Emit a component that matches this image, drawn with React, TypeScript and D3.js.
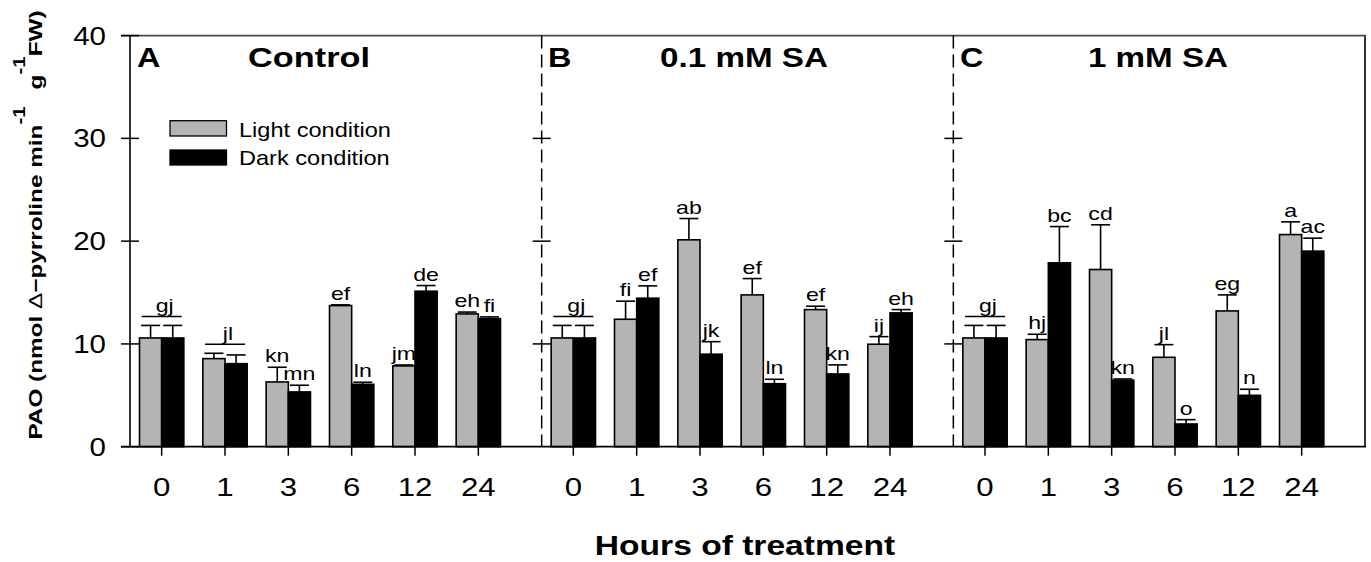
import React from "react";
import * as d3 from "d3";

// ---------- data ----------
const hours = ["0", "1", "3", "6", "12", "24"];
const panelTitles = ["Control", "0.1 mM SA", "1 mM SA"];
const panelLetters = ["A", "B", "C"];
const yTicks = [0, 10, 20, 30, 40];

// means (nmol Δ-pyrroline min-1 g-1 FW)
const lightA = [10.58, 8.57, 6.3, 13.73, 7.86, 12.92];
const darkA = [10.58, 8.08, 5.33, 6.07, 15.13, 12.46];
const lightB = [10.58, 12.4, 20.13, 14.77, 13.34, 9.97];
const darkB = [10.58, 14.45, 9.0, 6.13, 7.08, 13.02];
const lightC = [10.58, 10.42, 17.24, 8.7, 13.21, 20.64];
const darkC = [10.58, 17.89, 6.47, 2.21, 5.0, 19.03];

// standard errors
const lightErrA = [1.22, 0.52, 1.43, 0.07, 0.09, 0.18];
const darkErrA = [1.22, 0.85, 0.65, 0.2, 0.55, 0.17];
const lightErrB = [1.22, 1.76, 2.07, 1.59, 0.33, 0.74];
const darkErrB = [1.22, 1.2, 1.22, 0.43, 0.88, 0.32];
const lightErrC = [1.22, 0.52, 4.35, 1.23, 1.56, 1.24];
const darkErrC = [1.22, 3.53, 0.12, 0.42, 0.59, 1.26];

// significance letters
const lightLetA = ["", "", "kn", "ef", "jm", "eh"];
const darkLetA = ["", "", "mn", "ln", "de", "fi"];
const groupLetA = ["gj", "jl", "", "", "", ""];
const lightLetB = ["", "fi", "ab", "ef", "ef", "ij"];
const darkLetB = ["", "ef", "jk", "ln", "kn", "eh"];
const groupLetB = ["gj", "", "", "", "", ""];
const lightLetC = ["", "hj", "cd", "jl", "eg", "a"];
const darkLetC = ["", "bc", "kn", "o", "n", "ac"];
const groupLetC = ["gj", "", "", "", "", ""];

const panels = [
  { light: lightA, dark: darkA, le: lightErrA, de: darkErrA, ll: lightLetA, dl: darkLetA, gl: groupLetA },
  { light: lightB, dark: darkB, le: lightErrB, de: darkErrB, ll: lightLetB, dl: darkLetB, gl: groupLetB },
  { light: lightC, dark: darkC, le: lightErrC, de: darkErrC, ll: lightLetC, dl: darkLetC, gl: groupLetC },
];

// ---------- layout ----------
const W = 1371;
const H = 562;
const X0 = 130;
const X1 = 1365;
const Y0 = 446.7;
const Y1 = 35.6;
const PANEL_SPAN = 6.5;
const BAR_W = 0.35;
const CAP_W = 19;
const FONT = "'Liberation Sans', Arial, Helvetica, sans-serif";
const GRAY = "#b4b4b4";

const x = d3.scaleLinear().domain([-0.5, 19]).range([X0, X1]);
const y = d3.scaleLinear().domain([0, 40]).range([Y0, Y1]);

function T({ x: tx, y: ty, size, weight = "normal", anchor = "start", sx = 1.2, children }: any) {
  return (
    <text
      transform={`translate(${tx},${ty}) scale(${sx},1)`}
      fontSize={size}
      fontWeight={weight}
      textAnchor={anchor}
      fontFamily={FONT}
      fill="#000"
    >
      {children}
    </text>
  );
}

export default function App() {
  const bw = x(BAR_W) - x(0);
  const dividers = [6, 12.5];
  const titleX = [309, 744, 1158];
  const letterX = [137, 548, 960];

  return (
    <svg width={W} height={H} style={{ position: "absolute", left: 0, top: 0, background: "#fff" }}>
      <rect x={0} y={0} width={W} height={H} fill="#fff" />
      {/* bars */}
      {panels.map((p, pi) =>
        hours.map((h, i) => {
          const c = x(pi * PANEL_SPAN + i);
          const lt = p.light[i] + p.le[i];
          const dt = p.dark[i] + p.de[i];
          const items: any[] = [];
          items.push(
            <g key="e" stroke="#000" strokeWidth={1.6}>
              <line x1={c - bw / 2} x2={c - bw / 2} y1={y(p.light[i])} y2={y(lt)} />
              <line x1={c - bw / 2 - CAP_W / 2} x2={c - bw / 2 + CAP_W / 2} y1={y(lt)} y2={y(lt)} />
              <line x1={c + bw / 2} x2={c + bw / 2} y1={y(p.dark[i])} y2={y(dt)} />
              <line x1={c + bw / 2 - CAP_W / 2} x2={c + bw / 2 + CAP_W / 2} y1={y(dt)} y2={y(dt)} />
            </g>
          );
          items.push(
            <rect key="l" x={c - bw} y={y(p.light[i])} width={bw} height={Y0 - y(p.light[i])} fill={GRAY} stroke="#000" strokeWidth={1.6} />
          );
          items.push(
            <rect key="d" x={c} y={y(p.dark[i])} width={bw} height={Y0 - y(p.dark[i])} fill="#000" stroke="#000" strokeWidth={1.6} />
          );
          if (p.ll[i]) {
            items.push(
              <T key="ll" x={c - bw / 2} y={y(lt) - 5} size={18.5} anchor="middle" sx={1.25}>
                {p.ll[i]}
              </T>
            );
          }
          if (p.dl[i]) {
            items.push(
              <T key="dl" x={c + bw / 2} y={y(dt) - 5} size={18.5} anchor="middle" sx={1.25}>
                {p.dl[i]}
              </T>
            );
          }
          if (p.gl[i]) {
            const ly = Math.min(y(lt), y(dt)) - 9;
            items.push(
              <line key="gline" x1={c - 20} x2={c + 20} y1={ly} y2={ly} stroke="#000" strokeWidth={1.6} />
            );
            items.push(
              <T key="gl" x={c + 3} y={ly - 4} size={18.5} anchor="middle" sx={1.25}>
                {p.gl[i]}
              </T>
            );
          }
          return <g key={`${pi}-${i}`}>{items}</g>;
        })
      )}

      {/* frame */}
      <line x1={X0} x2={X0} y1={Y1} y2={Y0} stroke="#000" strokeWidth={1.6} />
      <line x1={X1} x2={X1} y1={Y1} y2={Y0} stroke="#000" strokeWidth={1.6} />
      <line x1={X0 - 9} x2={X1 + 1} y1={Y1} y2={Y1} stroke="#4a4a4a" strokeWidth={1.8} />
      <line x1={X0 - 9} x2={X1 + 1} y1={Y0} y2={Y0} stroke="#000" strokeWidth={1.8} />
      {dividers.map((d) => (
        <g key={d}>
          <line x1={x(d)} x2={x(d)} y1={Y1} y2={Y0} stroke="#000" strokeWidth={1.5} strokeDasharray="13,6" />
          {yTicks.slice(1, 4).map((t) => (
            <line key={t} x1={x(d) - 9} x2={x(d) + 9} y1={y(t)} y2={y(t)} stroke="#000" strokeWidth={1.5} />
          ))}
        </g>
      ))}

      {/* y axis ticks and labels */}
      {yTicks.map((t) => (
        <g key={t}>
          <line x1={X0 - 9} x2={X0 + 9} y1={y(t)} y2={y(t)} stroke="#000" strokeWidth={1.5} />
          <T x={106} y={y(t) + 9} size={25} anchor="end" sx={1.18}>
            {t}
          </T>
        </g>
      ))}

      {/* x axis ticks and labels */}
      {panels.map((p, pi) =>
        hours.map((h, i) => {
          const c = x(pi * PANEL_SPAN + i);
          return (
            <g key={`xt-${pi}-${i}`}>
              <line x1={c} x2={c} y1={Y0} y2={Y0 + 9} stroke="#000" strokeWidth={1.5} />
              <T x={c} y={496} size={26} anchor="middle" sx={1.2}>
                {h}
              </T>
            </g>
          );
        })
      )}

      {/* panel titles */}
      {panelTitles.map((t, pi) => (
        <g key={t}>
          <T x={letterX[pi]} y={66.5} size={27} weight="bold" sx={1.2}>
            {panelLetters[pi]}
          </T>
          <T x={titleX[pi]} y={66.5} size={27} weight="bold" anchor="middle" sx={pi === 0 ? 1.27 : 1.23}>
            {t}
          </T>
        </g>
      ))}

      {/* legend */}
      <rect x={170} y={120.7} width={56.5} height={15.3} fill={GRAY} stroke="#000" strokeWidth={1.3} />
      <rect x={170} y={150} width={56.5} height={15} fill="#000" stroke="#000" strokeWidth={1.3} />
      <T x={239} y={137.3} size={20.5} sx={1.15}>Light condition</T>
      <T x={239} y={165} size={20.5} sx={1.15}>Dark condition</T>

      {/* x axis title */}
      <T x={745} y={555} size={28} weight="bold" anchor="middle" sx={1.2}>
        Hours of treatment
      </T>

      {/* y axis title */}
      <text
        transform="translate(42,225) rotate(-90) scale(1.28,1)"
        fontSize={19}
        fontWeight="bold"
        textAnchor="middle"
        fontFamily={FONT}
        fill="#000"
      >
        PAO (nmol <tspan fontWeight="normal">Δ</tspan>−pyrroline min
        <tspan fontSize={16} dy={-17}>-1</tspan>
        <tspan dy={17} dx={8}> g</tspan>
        <tspan fontSize={16} dy={-17}>-1</tspan>
        <tspan dy={17}>FW)</tspan>
      </text>
    </svg>
  );
}
